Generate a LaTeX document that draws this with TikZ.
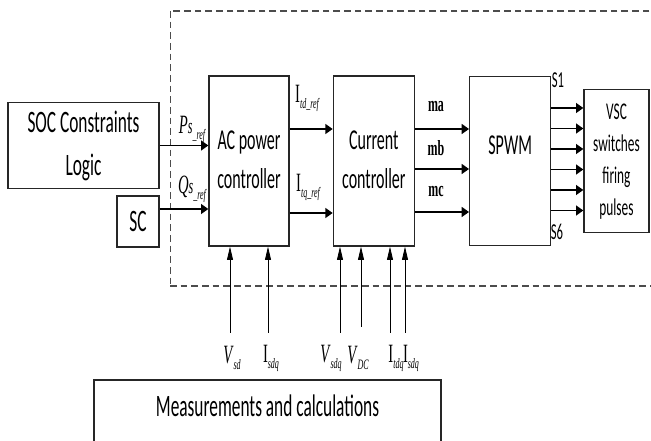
\documentclass[tikz,border=0pt]{standalone}
\usepackage{fontspec}
\usepackage{graphicx}
\setmainfont{Carlito}
\newfontfamily\labfont{Liberation Serif}
\usetikzlibrary{arrows.meta, positioning}
\newcommand{\tall}[1]{\scalebox{1}[1.8]{#1}}
\newcommand{\lines}[1]{\tall{\begin{tabular}{@{}c@{}}#1\end{tabular}}}
\newcommand{\sig}[2]{#1\raisebox{-0.5ex}{\fontsize{6}{6}\selectfont\itshape #2}}
\tikzset{
    block/.style={rectangle, draw=black!85, line width=1pt, fill=white, inner sep=0pt, font=\fontsize{12}{16.5}\selectfont},
    sigline/.style={draw, -{Triangle[length=5.5pt, width=7.5pt]}, line width=1.1pt},
    measline/.style={draw, -{Triangle[length=10pt, width=4.5pt]}, line width=0.6pt},
    siglabel/.style={font=\labfont\fontsize{11}{11}\selectfont, inner sep=0pt},
    region/.style={dash pattern=on 5pt off 3pt, gray!60!black}
}
\begin{document}
\begin{tikzpicture}[x=0.75pt, y=-0.75pt]
    \useasboundingbox (0,0) rectangle (651,441);

    % Dashed region
    \draw[region, line width=1.1pt] (660,11) -- (170,11);
    \draw[region, line width=0.7pt] (170,11) -- (170,286);
    \draw[region, line width=1.1pt] (170,286) -- (660,286);

    % Controller chain
    \node[block, minimum width=60pt, minimum height=127.5pt] (ac) at (249,161) {\lines{AC power\\controller}};
    \node[block, minimum width=60.75pt, minimum height=127.5pt, right=32.25pt of ac] (cc) {\lines{Current\\controller}};
    \node[block, minimum width=60.75pt, minimum height=126.75pt, right=40.5pt of cc] (spwm) {\raisebox{5pt}[0pt][0pt]{\tall{SPWM}}};
    \node[block, minimum width=48.75pt, minimum height=107.25pt, right=24pt of spwm, font=\fontsize{10}{13.3}\selectfont] (vsc) {\lines{VSC\\switches\\firing\\pulses}};

    % Inputs
    \node[block, minimum width=113.25pt, minimum height=63.75pt, font=\fontsize{13}{18}\selectfont] (soc) at (83.5,145.5) {\raisebox{-3pt}{\lines{SOC Constraints\\Logic}}};
    \node[block, minimum width=31.5pt, minimum height=38.25pt, font=\fontsize{13}{18}\selectfont] (sc) at (138,221.5) {\tall{SC}};
    \node[block, minimum width=260.25pt, minimum height=48pt, font=\fontsize{13}{18}\selectfont] (meas) at (267.5,412) {\raisebox{-3.75pt}[0pt][0pt]{\tall{Measurements and calculations}}};

    % Signal arrows
    \draw[sigline] (soc.east) -- (soc.east -| ac.west);
    \coordinate (qrow) at (0,209);
    \draw[sigline] (sc.east |- qrow) -- (ac.west |- qrow);
    \foreach \y in {129,213}{
        \coordinate (row) at (0,\y);
        \draw[sigline] (ac.east |- row) -- (cc.west |- row);
    }
    \foreach \y in {129,169,212}{
        \coordinate (row) at (0,\y);
        \draw[sigline] (cc.east |- row) -- (spwm.west |- row);
    }
    \foreach \i in {0,...,5}{
        \coordinate (row) at (0,{108+20.5*\i});
        \draw[sigline] (spwm.east |- row) -- (vsc.west |- row);
    }
    \foreach \x/\t/\b in {230/333/ac, 268/333/ac, 340/333/cc, 361/327/cc, 390/333/cc, 405/333/cc}{
        \coordinate (tail) at (\x,\t);
        \draw[measline] (tail) -- (tail |- \b.south);
    }

    % Labels
    \node[siglabel] (pref) at (192,129) {\tall{\sig{\textit{P}{\small\itshape s}}{\_ref}}};
    \node[siglabel] (qref) at (192,189) {\tall{\sig{\textit{Q}{\small\itshape s}}{\_ref}}};
    \node[siglabel] (itd) at (307,98) {\tall{\sig{I}{td\_ref}}};
    \node[siglabel] (itq) at (308,187) {\tall{\sig{I}{tq\_ref}}};
    \node[siglabel, font=\labfont\bfseries\fontsize{9}{9}\selectfont] (ma) at (436,107) {\tall{ma}};
    \node[siglabel, font=\labfont\bfseries\fontsize{9}{9}\selectfont] (mb) at (436,148) {\tall{mb}};
    \node[siglabel, font=\labfont\bfseries\fontsize{9}{9}\selectfont] (mc) at (436,192) {\tall{mc}};
    \node[inner sep=0pt, font=\fontsize{9.5}{9.5}\selectfont] (s1) at (558,80) {\tall{S1}};
    \node[inner sep=0pt, font=\fontsize{9.5}{9.5}\selectfont] (s6) at (557,232) {\tall{S6}};
    \node[siglabel] (vsd) at (232,358) {\tall{\sig{\textit{V}}{sd}}};
    \node[siglabel] (isdq) at (271,358) {\tall{\sig{I}{sdq}}};
    \node[siglabel] (vsdq) at (331,358) {\tall{\sig{\textit{V}}{sdq}}};
    \node[siglabel] (vdc) at (358,358) {\tall{\sig{\textit{V}}{DC}}};
    \node[siglabel] (itdq) at (396,358) {\tall{\sig{I}{tdq}}};
    \node[siglabel] (isdqb) at (411,358) {\tall{\sig{I}{sdq}}};

\end{tikzpicture}
\end{document}
